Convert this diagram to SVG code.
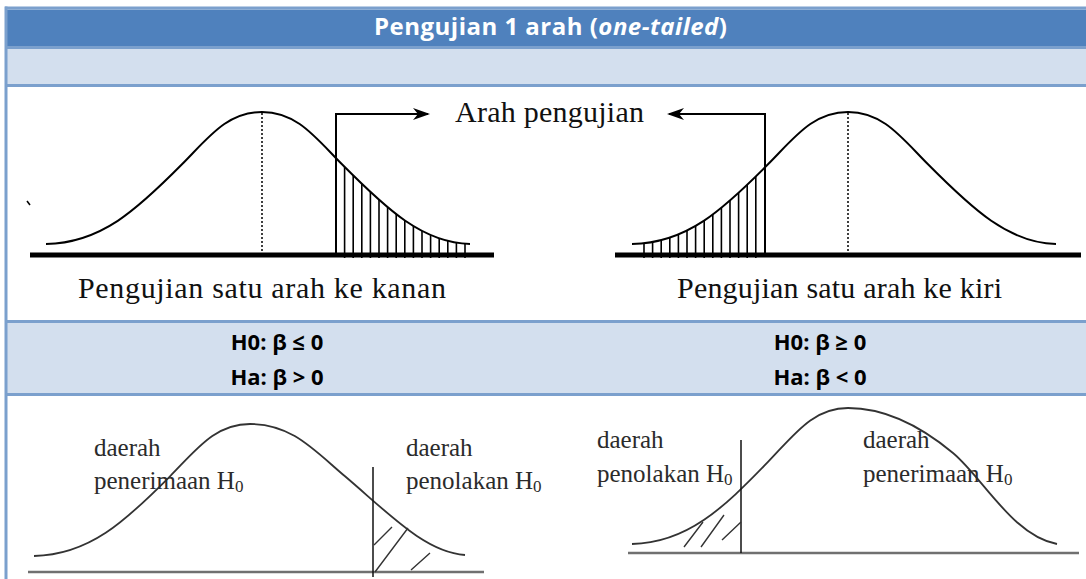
<svg xmlns="http://www.w3.org/2000/svg" width="1086" height="579" viewBox="0 0 1086 579">
<defs>
<style>
.hdr{font-family:"Open Sans","Liberation Sans",sans-serif;font-weight:bold;font-size:24px;fill:#fff}
.hyp{font-family:"Open Sans","Liberation Sans",sans-serif;font-weight:bold;font-size:22px;fill:#000;text-anchor:middle}
.cap{font-family:"Liberation Serif","Times New Roman",serif;font-size:30px;fill:#111}
.lbl{font-family:"Liberation Serif","Times New Roman",serif;font-size:25px;fill:#2b2b2b}
.sub{font-size:17px}
.curve{fill:none;stroke:#000;stroke-width:2}
.curve2{fill:none;stroke:#333;stroke-width:1.8}
.hatch{fill:none;stroke:#000;stroke-width:1.6}
.hatch2{fill:none;stroke:#333;stroke-width:1.4}
.axis{stroke:#000;stroke-width:5}
.axis2{stroke:#707070;stroke-width:2.5}
.dot{stroke:#000;stroke-width:1.5;stroke-dasharray:2 2}
.rule{stroke:#7BA0CD;stroke-width:3}
.bar{stroke:#000;stroke-width:2;fill:none}
.light{fill:#D3DFEE}
</style>
<marker id="ah" markerWidth="18" markerHeight="14" refX="15" refY="7" orient="auto" markerUnits="userSpaceOnUse"><path d="M0,1 L17,7 L0,13 L5,7 Z" fill="#000"/></marker>
<clipPath id="cTL"><path d="M46,244 C101,243 137,209.7 182,164.3 C208.7,137.4 227,112 262,112 C297,112 315.3,137.4 342,164.3 C387,209.7 423,243 470,244 L470,258 L46,258 Z"/></clipPath>
<clipPath id="cTR"><path d="M632,244 C687,243 723,209.7 768,164.3 C794.7,137.4 813,112 848,112 C883,112 901.3,137.4 928,164.3 C973,209.7 1009,243 1056,244 L1056,258 L632,258 Z"/></clipPath>
</defs>

<g id="table">
<rect x="7" y="9.5" width="1079" height="36.5" fill="#4F81BD"/>
<rect class="light" x="7" y="49" width="1079" height="35"/>
<rect class="light" x="7" y="323" width="1079" height="70"/>
<line class="rule" x1="5" y1="8" x2="1086" y2="8"/>
<line class="rule" x1="5" y1="47.5" x2="1086" y2="47.5"/>
<line class="rule" x1="5" y1="85.5" x2="1086" y2="85.5"/>
<line class="rule" x1="5" y1="321.5" x2="1086" y2="321.5"/>
<line class="rule" x1="5" y1="394.5" x2="1086" y2="394.5"/>
<line class="rule" x1="6" y1="6.5" x2="6" y2="579"/>
</g>

<g id="header">
<text class="hdr" x="374" y="35" textLength="353">Pengujian 1 arah (<tspan font-style="italic">one-tailed</tspan>)</text>
</g>

<g id="chart-right-tail">
<path class="hatch" clip-path="url(#cTL)" d="M344.6,100V258M353.2,100V258M361.8,100V258M370.4,100V258M379,100V258M387.6,100V258M396.2,100V258M404.8,100V258M413.4,100V258M422,100V258M430.6,100V258M439.2,100V258M447.8,100V258M456.4,100V258M465,100V258"/>
<path class="curve" d="M46,244 C101,243 137,209.7 182,164.3 C208.7,137.4 227,112 262,112 C297,112 315.3,137.4 342,164.3 C387,209.7 423,243 470,244"/>
<line class="dot" x1="262" y1="113" x2="262" y2="253"/>
<line class="axis" x1="30" y1="255" x2="494" y2="255"/>
<path d="M27,201 L30,205" stroke="#000" stroke-width="1.5"/>
<text class="cap" x="78" y="298" textLength="368">Pengujian satu arah ke kanan</text>
</g>

<g id="chart-left-tail">
<path class="hatch" clip-path="url(#cTR)" d="M644,100V258M652.6,100V258M661.2,100V258M669.8,100V258M678.4,100V258M687,100V258M695.6,100V258M704.2,100V258M712.8,100V258M721.4,100V258M730,100V258M738.6,100V258M747.2,100V258M755.8,100V258"/>
<path class="curve" d="M632,244 C687,243 723,209.7 768,164.3 C794.7,137.4 813,112 848,112 C883,112 901.3,137.4 928,164.3 C973,209.7 1009,243 1056,244"/>
<line class="dot" x1="848" y1="113" x2="848" y2="253"/>
<line class="axis" x1="615" y1="255" x2="1081" y2="255"/>
<text class="cap" x="677" y="298" textLength="325">Pengujian satu arah ke kiri</text>
</g>

<g id="direction-label">
<text class="cap" x="455" y="122" textLength="189">Arah pengujian</text>
</g>

<g id="connectors">
<path class="bar" d="M336,255 V114 H428" marker-end="url(#ah)"/>
<path class="bar" d="M765,255 V114 H669" marker-end="url(#ah)"/>
</g>

<g id="hyp-right">
<text class="hyp" x="277" y="350">H0: β ≤ 0</text>
<text class="hyp" x="277" y="385">Ha: β &gt; 0</text>
</g>

<g id="hyp-left">
<text class="hyp" x="820" y="350">H0: β ≥ 0</text>
<text class="hyp" x="820" y="385">Ha: β &lt; 0</text>
</g>

<g id="region-right">
<line class="axis2" x1="28" y1="572" x2="484" y2="572"/>
<path class="curve2" d="M34,556 C89,555 125,521.7 170,476.3 C196.7,449.4 215,424 250,424 C291.6,424 313.3,449.4 345,476.3 C390,514.5 425,552 465,555"/>
<line x1="373" y1="467" x2="373" y2="577" stroke="#111" stroke-width="1.5"/>
<path class="hatch2" d="M374,545 L392,527 M375,572 L408,528 M411,570 L430,553"/>
<text class="lbl" x="94" y="456">daerah</text>
<text class="lbl" x="94" y="489">penerimaan H<tspan class="sub" dy="3">0</tspan></text>
<text class="lbl" x="406" y="456">daerah</text>
<text class="lbl" x="406" y="489">penolakan H<tspan class="sub" dy="3">0</tspan></text>
</g>

<g id="region-left">
<line class="axis2" x1="628" y1="553" x2="1079" y2="553"/>
<path class="curve2" d="M632,544 C687,543 723,508.6 768,461.9 C794.7,434.2 813,408 848,408 C888,408 923,428 953,453 C983,478 1013,536 1057,544"/>
<line x1="741" y1="440" x2="741" y2="553" stroke="#111" stroke-width="1.5"/>
<path class="hatch2" d="M684,547 L703,522 M701,547 L724,515 M722,540 L741,522"/>
<text class="lbl" x="597" y="448">daerah</text>
<text class="lbl" x="597" y="482">penolakan H<tspan class="sub" dy="3">0</tspan></text>
<text class="lbl" x="863" y="448">daerah</text>
<text class="lbl" x="863" y="482">penerimaan  H<tspan class="sub" dy="3">0</tspan></text>
</g>
</svg>
